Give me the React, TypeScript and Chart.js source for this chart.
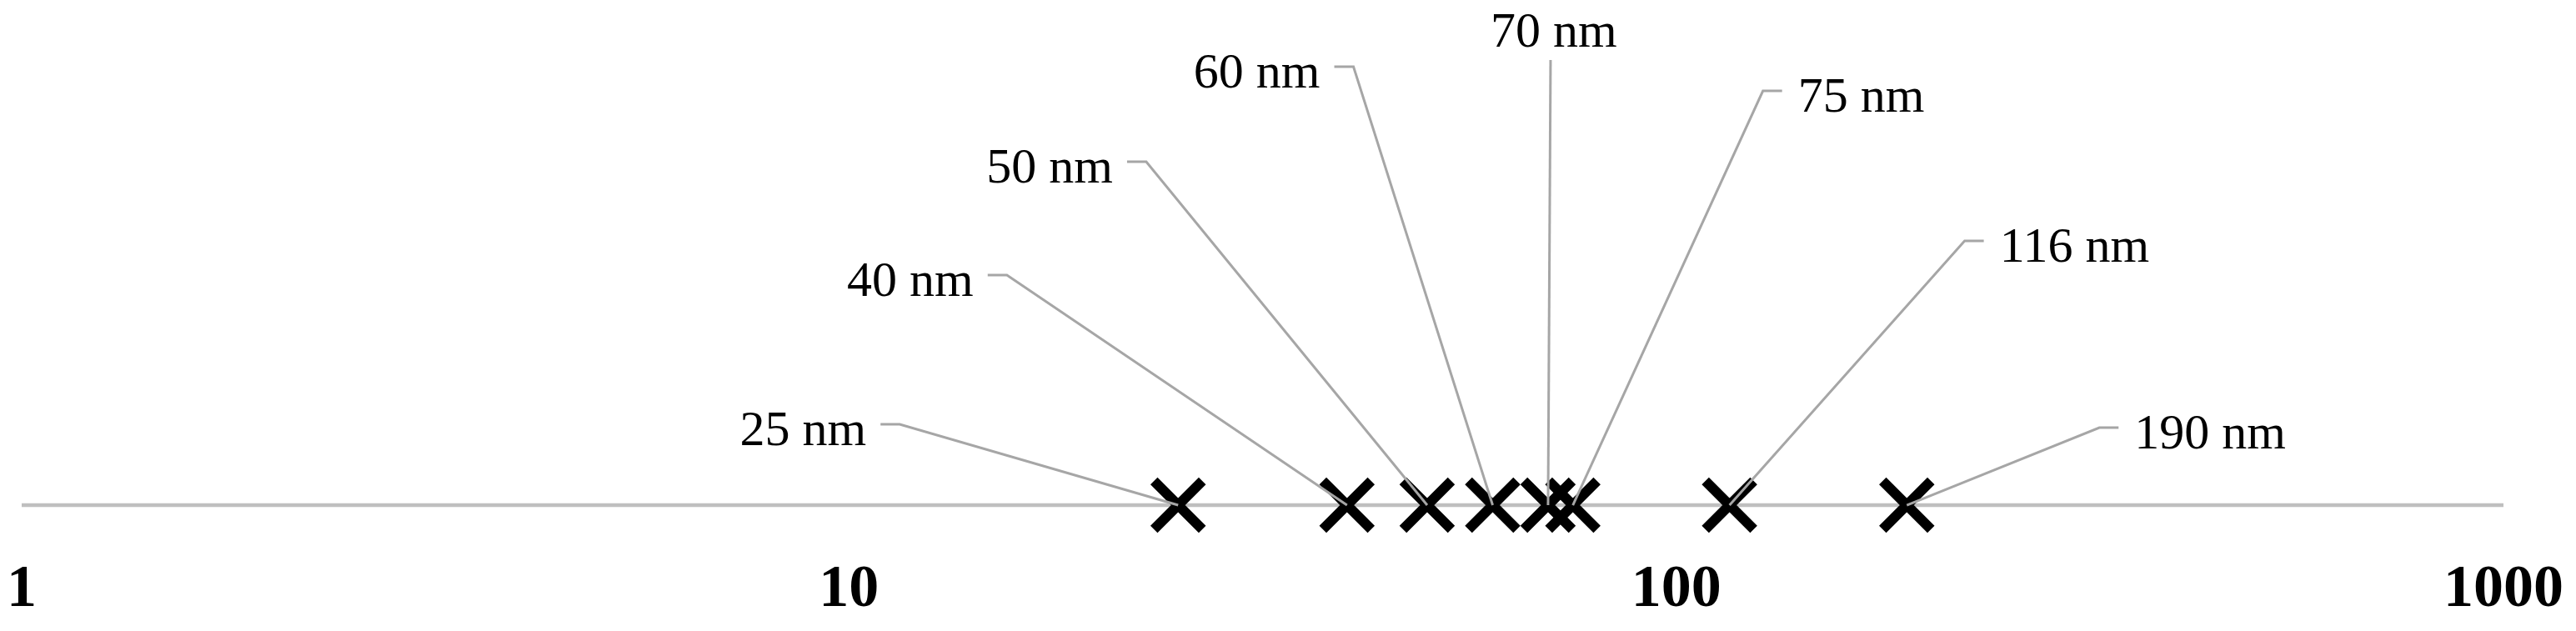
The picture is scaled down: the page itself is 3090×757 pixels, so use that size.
import React, { useEffect, useRef } from "react";
import { Chart, registerables } from "chart.js";

Chart.register(...registerables);

// ---- data ----
const particleSizes = [25, 40, 50, 60, 70, 75, 116, 190];
const pointLabels = ["25 nm", "40 nm", "50 nm", "60 nm", "70 nm", "75 nm", "116 nm", "190 nm"];
const tickValues = [1, 10, 100, 1000];
const axisMin = 1;
const axisMax = 1000;

// ---- label layout (pixel offsets from marker to leader-line elbow, and side) ----
const labelOffsets = [
  [-334, -97],
  [-408, -276],
  [-337, -412],
  [-167, -526],
  [3, -534],
  [228, -497],
  [282, -317],
  [231, -93],
];
const labelSides = ["left", "left", "left", "left", "top", "right", "right", "right"];

const FONT = "'Liberation Serif', 'Times New Roman', serif";

const calloutPlugin = {
  id: "callouts",
  afterDatasetsDraw(chart: any) {
    const { ctx } = chart;
    const xs = chart.scales.x;
    const ys = chart.scales.y;
    ctx.save();
    particleSizes.forEach((v, i) => {
      const px = xs.getPixelForValue(v);
      const py = ys.getPixelForValue(0);
      const [dx, dy] = labelOffsets[i];
      const ex = px + dx;
      const ey = py + dy;
      const side = labelSides[i];
      ctx.strokeStyle = "#a6a6a6";
      ctx.lineWidth = 3;
      ctx.beginPath();
      ctx.moveTo(px, py);
      ctx.lineTo(ex, ey);
      if (side === "left") ctx.lineTo(ex - 23, ey);
      else if (side === "right") ctx.lineTo(ex + 23, ey);
      ctx.stroke();
      ctx.fillStyle = "#000";
      ctx.font = `60px ${FONT}`;
      ctx.textBaseline = "middle";
      if (side === "left") {
        ctx.textAlign = "right";
        ctx.fillText(pointLabels[i], ex - 40, ey + 9);
      } else if (side === "right") {
        ctx.textAlign = "left";
        ctx.fillText(pointLabels[i], ex + 42, ey + 9);
      } else {
        ctx.textAlign = "center";
        ctx.fillText(pointLabels[i], ex + 4, ey - 32);
      }
    });
    ctx.restore();
  },
};

export default function App() {
  const ref = useRef<HTMLCanvasElement | null>(null);
  useEffect(() => {
    if (!ref.current) return;
    const chart = new Chart(ref.current, {
      type: "scatter",
      data: {
        datasets: [
          {
            label: "sizes",
            data: particleSizes.map((v) => ({ x: v, y: 0 })),
            pointStyle: "crossRot",
            pointRadius: 41,
            pointBorderWidth: 12,
            borderColor: "#000",
            backgroundColor: "#000",
            showLine: false,
            clip: false,
            order: 1,
          } as any,
          {
            label: "axis",
            data: [
              { x: axisMin, y: 0 },
              { x: axisMax, y: 0 },
            ],
            showLine: true,
            borderColor: "#bfbfbf",
            borderWidth: 4.5,
            pointRadius: 0,
            clip: false,
            order: 2,
          } as any,
        ],
      },
      options: {
        responsive: false,
        animation: false,
        events: [],
        layout: { autoPadding: false, padding: { left: 26, right: 87, top: 0, bottom: 0 } },
        plugins: { legend: { display: false }, tooltip: { enabled: false } },
        scales: {
          x: {
            type: "logarithmic",
            min: axisMin,
            max: axisMax,
            position: "bottom",
            grid: { display: false, drawTicks: false },
            border: { display: false },
            afterBuildTicks: (scale: any) => {
              scale.ticks = tickValues.map((v) => ({ value: v }));
            },
            ticks: {
              autoSkip: false,
              maxRotation: 0,
              padding: 5,
              color: "#000",
              font: { family: FONT, size: 72, weight: "bold" },
              callback: (v: any) => String(v),
            },
          },
          y: {
            type: "linear",
            display: false,
            min: -0.9,
            max: 10,
          },
        },
      },
      plugins: [calloutPlugin],
    });
    return () => chart.destroy();
  }, []);
  return (
    <div style={{ position: "absolute", left: 0, top: 0, width: 3090, height: 757, background: "#fff" }}>
      <canvas ref={ref} width={3090} height={757} style={{ display: "block" }} />
    </div>
  );
}
